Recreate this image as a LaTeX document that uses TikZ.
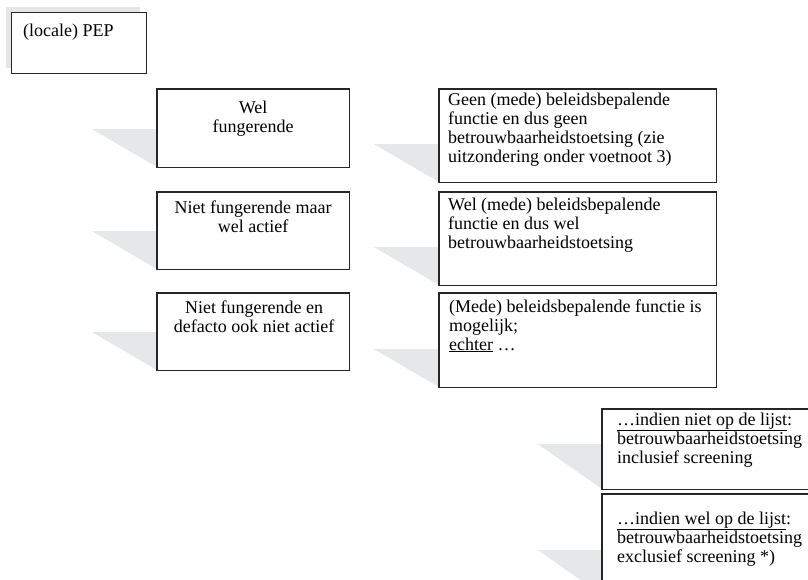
\documentclass[tikz,border=0pt]{standalone}
\usepackage{fontspec}
\setmainfont{Liberation Serif}
\usetikzlibrary{calc}
\definecolor{wedgegray}{HTML}{E6E7E9}
\definecolor{shadowgray}{HTML}{E6E6E6}
\newcommand{\mylines}[2]{\begin{tabular}[t]{@{}#1@{}}#2\end{tabular}}
\tikzset{
  box/.style={draw=black!85, line width=1.1pt, fill=white, rectangle, inner sep=0pt, anchor=north west},
  txt/.style={inner sep=0pt, font=\fontsize{18}{19}\selectfont},
  wedge/.style={fill=wedgegray, draw=none}
}
\begin{document}
\begin{tikzpicture}[x=1pt,y=-1pt]
\useasboundingbox (0,0) rectangle (808,579);
\clip (0,0) rectangle (808,579);
% shadow of the top box
\fill[shadowgray] (6,7) rectangle (140,68);
\node[box, minimum width=135pt, minimum height=61pt] (pep) at (11,12) {};
% boxes (coordinates only, drawn after wedges)
\path (157,89) coordinate (b1p) (157,192) coordinate (b2p) (157,293) coordinate (b3p)
      (439,89) coordinate (r1p) (439,192) coordinate (r2p) (439,293) coordinate (r3p)
      (602,409) coordinate (s1p) (602,494) coordinate (s2p);
\node[box, draw=none, fill=none, minimum width=191pt, minimum height=77pt] (b1) at (b1p) {};
\node[box, draw=none, fill=none, minimum width=191pt, minimum height=76pt] (b2) at (b2p) {};
\node[box, draw=none, fill=none, minimum width=191pt, minimum height=76pt] (b3) at (b3p) {};
\node[box, draw=none, fill=none, minimum width=276pt, minimum height=92pt] (r1) at (r1p) {};
\node[box, draw=none, fill=none, minimum width=276pt, minimum height=92pt] (r2) at (r2p) {};
\node[box, draw=none, fill=none, minimum width=276pt, minimum height=93pt] (r3) at (r3p) {};
\node[box, draw=none, fill=none, minimum width=230pt, minimum height=79pt] (s1) at (s1p) {};
\node[box, draw=none, fill=none, minimum width=230pt, minimum height=100pt] (s2) at (s2p) {};
% wedges
\foreach \n in {b1,b2,b3,r1,r2,r3}{
  \fill[wedgegray] ($(\n.south west)+(-65,-38)$) -- ($(\n.south west)+(0,-38)$) -- (\n.south west) -- cycle;
}
\foreach \n in {s1,s2}{
  \fill[wedgegray] ($(\n.south west)+(-64,-45)$) -- ($(\n.south west)+(0,-45)$) -- (\n.south west) -- cycle;
}
% visible boxes
\foreach \n in {b1,b2,b3,r1,r2,r3,s1,s2}{
  \draw[draw=black!85, line width=1.1pt, fill=white] (\n.north west) rectangle (\n.south east);
}
% texts
\node[txt, anchor=base west] (tpep) at ($(pep.north west)+(12,24)$) {(locale) PEP};
\node[txt, anchor=base] (tb1) at ($(b1.north)+(0,24)$) {\mylines{c}{Wel\\fungerende}};
\node[txt, anchor=base] (tb2) at ($(b2.north)+(0,21)$) {\mylines{c}{Niet fungerende maar\\wel actief}};
\node[txt, anchor=base] (tb3) at ($(b3.north)+(1,20)$) {\mylines{c}{Niet fungerende en\\ defacto ook niet actief}};
\node[txt, anchor=base west] (tr1) at ($(r1.north west)+(9,16)$) {\mylines{l}{Geen (mede) beleidsbepalende\\functie en dus geen\\betrouwbaarheidstoetsing (zie\\uitzondering onder voetnoot 3)}};
\node[txt, anchor=base west] (tr2) at ($(r2.north west)+(9,18)$) {\mylines{l}{Wel (mede) beleidsbepalende\\functie en dus wel\\betrouwbaarheidstoetsing}};
\node[txt, anchor=base west] (tr3) at ($(r3.north west)+(10,19)$) {\mylines{l}{(Mede) beleidsbepalende functie is\\mogelijk;\\\underline{echter} …}};
\node[txt, anchor=base west] (ts1) at ($(s1.north west)+(15,16)$) {\mylines{l}{\underline{…indien niet op de lijst}:\\betrouwbaarheidstoetsing\\inclusief screening}};
\node[txt, anchor=base west] (ts2) at ($(s2.north west)+(15,30)$) {\mylines{l}{\underline{…indien wel op de lijst}:\\betrouwbaarheidstoetsing\\exclusief screening *)}};
\end{tikzpicture}
\end{document}
